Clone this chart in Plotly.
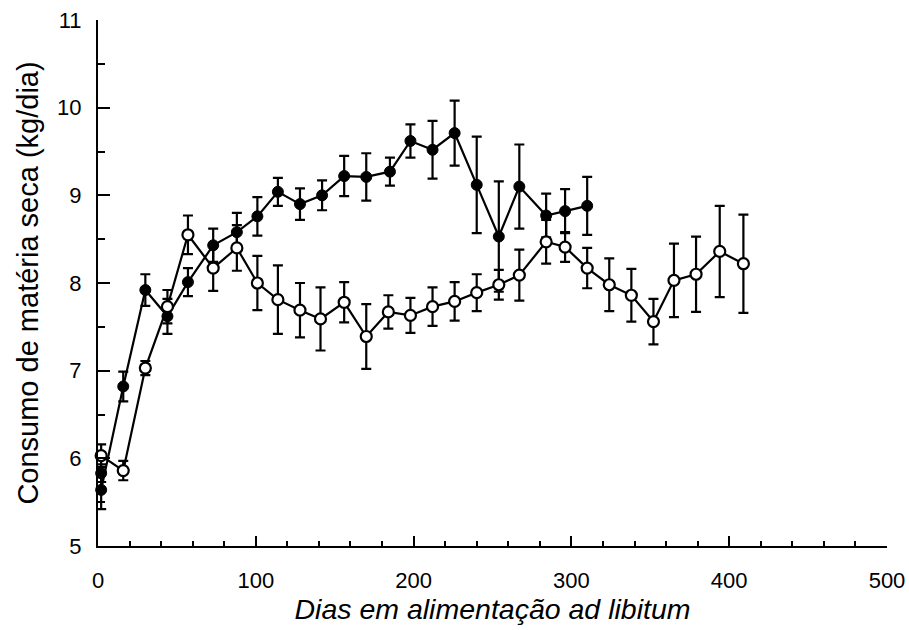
import plotly.graph_objects as go

# Grupo 1 (círculos cheios)
dias_cheio = [2, 2, 16, 30, 44, 57, 73, 88, 101, 114, 128, 142, 156, 170, 185,
              198, 212, 226, 240, 254, 267, 284, 296, 310]
consumo_cheio = [5.83, 5.64, 6.82, 7.92, 7.62, 8.01, 8.43, 8.58, 8.76, 9.04, 8.90,
                 9.00, 9.22, 9.21, 9.27, 9.62, 9.52, 9.71, 9.12, 8.53, 9.10, 8.77,
                 8.82, 8.88]
erro_cheio = [0.10, 0.22, 0.17, 0.18, 0.20, 0.16, 0.19, 0.22, 0.22, 0.16, 0.18,
              0.17, 0.23, 0.27, 0.16, 0.19, 0.33, 0.37, 0.55, 0.63, 0.48, 0.25,
              0.25, 0.33]

# Grupo 2 (círculos abertos)
dias_aberto = [2, 16, 30, 44, 57, 73, 88, 101, 114, 128, 141, 156, 170, 184, 198,
               212, 226, 240, 254, 267, 284, 296, 310, 324, 338, 352, 365, 379,
               394, 409]
consumo_aberto = [6.03, 5.86, 7.03, 7.73, 8.55, 8.17, 8.40, 8.00, 7.81, 7.69, 7.59,
                  7.78, 7.39, 7.67, 7.63, 7.73, 7.79, 7.89, 7.98, 8.09, 8.47, 8.41,
                  8.17, 7.98, 7.86, 7.56, 8.03, 8.10, 8.36, 8.22]
erro_aberto = [0.13, 0.11, 0.08, 0.19, 0.22, 0.26, 0.26, 0.31, 0.39, 0.31, 0.36,
               0.23, 0.37, 0.19, 0.20, 0.22, 0.22, 0.21, 0.17, 0.29, 0.25, 0.17,
               0.23, 0.30, 0.30, 0.26, 0.42, 0.43, 0.52, 0.56]

FONTE = "Liberation Sans, Arial, Helvetica, sans-serif"

fig = go.Figure()

fig.add_trace(go.Scatter(
    x=dias_cheio, y=consumo_cheio, mode="lines+markers",
    line=dict(color="black", width=2.2),
    marker=dict(symbol="circle", size=11, color="black",
                line=dict(color="black", width=1)),
    error_y=dict(type="data", array=erro_cheio, visible=True,
                 color="black", thickness=2.2, width=5),
    cliponaxis=False, showlegend=False,
))

fig.add_trace(go.Scatter(
    x=dias_aberto, y=consumo_aberto, mode="lines+markers",
    line=dict(color="black", width=2.2),
    marker=dict(symbol="circle", size=11, color="white",
                line=dict(color="black", width=2.2)),
    error_y=dict(type="data", array=erro_aberto, visible=True,
                 color="black", thickness=2.2, width=5),
    cliponaxis=False, showlegend=False,
))

fig.update_layout(
    width=909, height=630,
    margin=dict(l=98, r=22, t=20, b=84),
    paper_bgcolor="white", plot_bgcolor="white",
    font=dict(family=FONTE, color="black"),
)

fig.update_xaxes(
    range=[0, 500], dtick=100, tick0=0, automargin=False,
    showline=True, linecolor="black", linewidth=2,
    showgrid=False, zeroline=False,
    ticks="inside", ticklen=10, tickwidth=2, tickcolor="black",
    minor=dict(dtick=20, ticks="inside", ticklen=5, tickwidth=2,
               tickcolor="black", showgrid=False),
    ticklabelstandoff=14,
    tickfont=dict(size=22, family=FONTE),
    title=dict(text="<i>Dias em alimentação ad libitum</i>",
               font=dict(size=28.5, family=FONTE), standoff=6),
)

fig.update_yaxes(
    range=[5, 11], dtick=1, tick0=5, automargin=False,
    showline=True, linecolor="black", linewidth=2,
    showgrid=False, zeroline=False,
    ticks="inside", ticklen=12, tickwidth=2, tickcolor="black",
    minor=dict(dtick=0.5, ticks="inside", ticklen=7, tickwidth=2,
               tickcolor="black", showgrid=False),
    ticklabelstandoff=10,
    tickfont=dict(size=22, family=FONTE),
    title=dict(text="Consumo de matéria seca (kg/dia)",
               font=dict(size=29, family=FONTE), standoff=10),
)

fig.write_html("out.html")
